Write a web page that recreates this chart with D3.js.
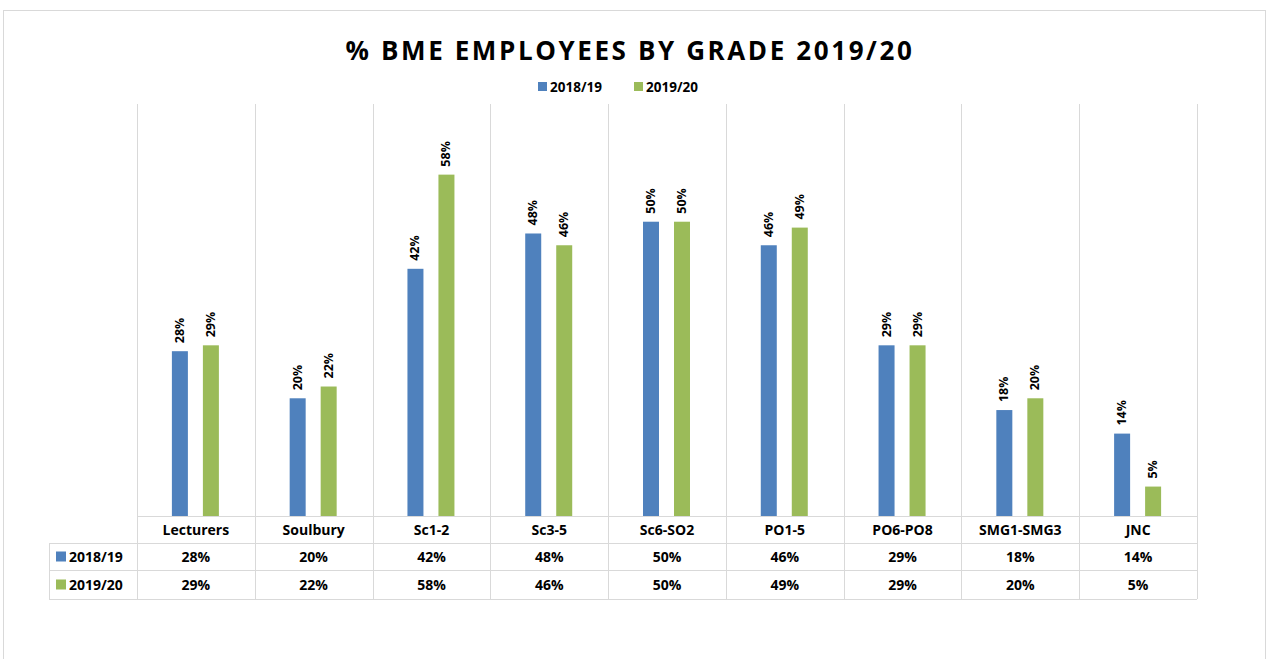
<!DOCTYPE html>
<html lang="en">
<head>
<meta charset="utf-8">
<style>
  body { margin: 0; background: white; }
  svg { font-family: 'Open Sans', Calibri, sans-serif; }
  .grid line { stroke: #d9d9d9; }
  .tbl line { stroke: #d9d9d9; }
</style>
</head>
<body>
<svg width="1269" height="659"></svg>
<script src="https://cdnjs.cloudflare.com/ajax/libs/d3/7.8.5/d3.min.js"></script>
<script>
// chart data
var grades = ["Lecturers", "Soulbury", "Sc1-2", "Sc3-5", "Sc6-SO2", "PO1-5", "PO6-PO8", "SMG1-SMG3", "JNC"];
var seriesNames = ["2018/19", "2019/20"];
var values1819 = [0.28, 0.20, 0.42, 0.48, 0.50, 0.46, 0.29, 0.18, 0.14];
var values1920 = [0.29, 0.22, 0.58, 0.46, 0.50, 0.49, 0.29, 0.20, 0.05];
var colors = ["#4f81bd", "#9bbb59"];

var svg = d3.select("svg");

// outer frame
svg.append("rect")
  .attr("x", 3.5).attr("y", 10.5)
  .attr("width", 1262).attr("height", 660)
  .attr("fill", "none").attr("stroke", "#d9d9d9");

var plotLeft = 137, plotRight = 1197, plotTop = 104, base = 516;

var x = d3.scaleBand().domain(grades).range([plotLeft, plotRight]);
var y = d3.scaleLinear().domain([0, 0.7]).range([base, plotTop]);
var fmt = d3.format(".0%");

var series = [values1819, values1920];

// vertical category gridlines
var grid = svg.append("g").attr("class", "grid");
grid.selectAll("line")
  .data(d3.range(grades.length + 1))
  .enter().append("line")
    .attr("x1", i => Math.round(plotLeft + i * x.bandwidth()) + 0.5)
    .attr("x2", i => Math.round(plotLeft + i * x.bandwidth()) + 0.5)
    .attr("y1", plotTop).attr("y2", base);

// bars
var barW = 16, offsets = [-24, 7];
series.forEach(function(vals, s) {
  var g = svg.append("g");
  g.selectAll("rect")
    .data(vals)
    .enter().append("rect")
      .attr("x", (d, i) => x(grades[i]) + x.bandwidth() / 2 + offsets[s])
      .attr("y", d => y(d))
      .attr("width", barW)
      .attr("height", d => base - y(d))
      .attr("fill", colors[s]);

  g.selectAll("text")
    .data(vals)
    .enter().append("text")
      .attr("transform", (d, i) => "translate(" + (x(grades[i]) + x.bandwidth() / 2 + offsets[s] + barW / 2 + 4) + "," + (y(d) - 8) + ") rotate(-90)")
      .attr("font-size", 12.5)
      .attr("font-weight", "bold")
      .attr("fill", "#000")
      .text(d => fmt(d));
});

// title
svg.append("text")
  .attr("x", 630).attr("y", 60)
  .attr("text-anchor", "middle")
  .attr("font-size", 26)
  .attr("font-weight", "bold")
  .attr("letter-spacing", 2.6)
  .text("% BME EMPLOYEES BY GRADE 2019/20");

// legend
var legendX = [538, 634];
seriesNames.forEach(function(name, s) {
  svg.append("rect")
    .attr("x", legendX[s]).attr("y", 82)
    .attr("width", 9).attr("height", 9)
    .attr("fill", colors[s]);
  svg.append("text")
    .attr("x", legendX[s] + 12).attr("y", 92)
    .attr("font-size", 13.5).attr("font-weight", "bold")
    .text(name);
});

// data table
var tbl = svg.append("g").attr("class", "tbl");
var rowY = [516, 543, 570, 599];
var tableLeft = 49;
rowY.forEach(function(ry, r) {
  tbl.append("line")
    .attr("x1", r === 0 ? plotLeft : tableLeft).attr("x2", plotRight)
    .attr("y1", ry + 0.5).attr("y2", ry + 0.5);
});
d3.range(grades.length + 1).forEach(function(i) {
  var gx = Math.round(plotLeft + i * x.bandwidth()) + 0.5;
  tbl.append("line")
    .attr("x1", gx).attr("x2", gx)
    .attr("y1", rowY[0]).attr("y2", rowY[3]);
});
tbl.append("line")
  .attr("x1", tableLeft + 0.5).attr("x2", tableLeft + 0.5)
  .attr("y1", rowY[1]).attr("y2", rowY[3]);

// category labels
svg.append("g").selectAll("text")
  .data(grades)
  .enter().append("text")
    .attr("x", d => x(d) + x.bandwidth() / 2)
    .attr("y", 535)
    .attr("text-anchor", "middle")
    .attr("font-size", 14).attr("font-weight", "bold")
    .text(d => d);

// series rows
series.forEach(function(vals, s) {
  var cy = (rowY[s + 1] + rowY[s + 2]) / 2;
  svg.append("rect")
    .attr("x", 56).attr("y", cy - 5)
    .attr("width", 10).attr("height", 10)
    .attr("fill", colors[s]);
  svg.append("text")
    .attr("x", 69).attr("y", cy + 5)
    .attr("font-size", 14).attr("font-weight", "bold")
    .text(seriesNames[s]);
  svg.append("g").selectAll("text")
    .data(vals)
    .enter().append("text")
      .attr("x", (d, i) => x(grades[i]) + x.bandwidth() / 2)
      .attr("y", cy + 5)
      .attr("text-anchor", "middle")
      .attr("font-size", 14).attr("font-weight", "bold")
      .text(d => fmt(d));
});
</script>
</body>
</html>
